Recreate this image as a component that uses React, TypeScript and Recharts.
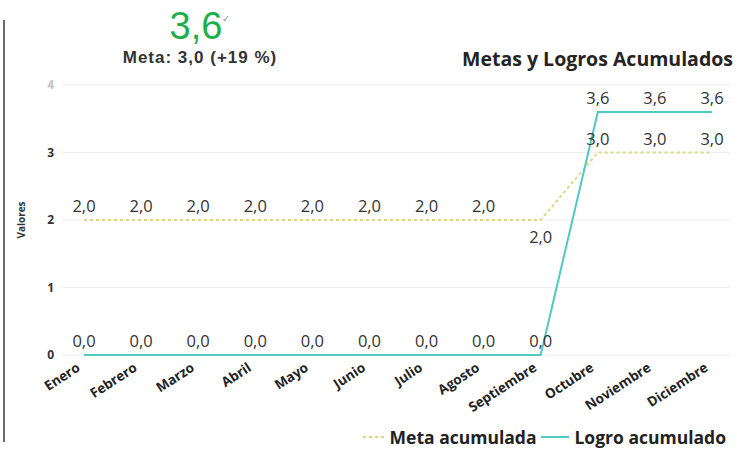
import { FC } from 'react';
import {
  LineChart,
  Line,
  XAxis,
  YAxis,
  CartesianGrid,
  Legend,
  LabelList,
  Label
} from 'recharts';

const months = [
  'Enero',
  'Febrero',
  'Marzo',
  'Abril',
  'Mayo',
  'Junio',
  'Julio',
  'Agosto',
  'Septiembre',
  'Octubre',
  'Noviembre',
  'Diciembre'
];
const metaAcumulada = [2, 2, 2, 2, 2, 2, 2, 2, 2, 3, 3, 3];
const logroAcumulado = [0, 0, 0, 0, 0, 0, 0, 0, 0, 3.6, 3.6, 3.6];
const yTicks = [0, 1, 2, 3, 4];

const kpiValue = '3,6';
const kpiGoal = 'Meta: 3,0 (+19 %)';
const title = 'Metas y Logros Acumulados';

const chartData = months.map((m, i) => ({
  mes: m,
  meta: metaAcumulada[i],
  logro: logroAcumulado[i]
}));

const FONT = '"Open Sans", "Noto Sans", sans-serif';
const KPI_FONT = '"Liberation Sans", Arial, sans-serif';
const META_COLOR = '#d6dc86';
const LOGRO_COLOR = '#4ec9c4';

const fmt = (v: number) => v.toFixed(1).replace('.', ',');

const MonthTick = (props: any) => {
  const { x, y, payload } = props;
  const ax = x - 3;
  const ay = y + 15;
  return (
    <text
      x={ax}
      y={ay}
      transform={`rotate(-33, ${ax}, ${ay})`}
      textAnchor="end"
      fontSize={13.5}
      fontWeight={700}
      fill="#222"
      fontFamily={FONT}
    >
      {payload.value}
    </text>
  );
};

const ValueTick = (props: any) => {
  const { x, y, payload } = props;
  return (
    <text
      x={x}
      y={y}
      dy={4}
      textAnchor="end"
      fontSize={12}
      fontWeight={700}
      fill={payload.value === 4 ? '#c4c4c4' : '#333'}
      fontFamily={FONT}
    >
      {payload.value}
    </text>
  );
};

const pointLabel = (below: number[]) => (props: any) => {
  const { x, y, value, index } = props;
  const under = below.includes(index);
  return (
    <text
      x={x}
      y={under ? y + 23 : y - 8}
      textAnchor="middle"
      fontSize={16.5}
      fill="#333"
      fontFamily={FONT}
    >
      {fmt(value)}
    </text>
  );
};

const LegendBox = () => (
  <div
    style={{
      display: 'flex',
      justifyContent: 'flex-end',
      alignItems: 'center',
      gap: 5,
      fontFamily: FONT,
      fontWeight: 700,
      fontSize: 17.5,
      color: '#222',
      paddingRight: 4
    }}
  >
    <svg width={22} height={6}>
      <line x1={0} y1={3} x2={22} y2={3} stroke={META_COLOR} strokeWidth={2} strokeDasharray="3 3" />
    </svg>
    <span>Meta acumulada</span>
    <svg width={28} height={6}>
      <line x1={0} y1={3} x2={28} y2={3} stroke={LOGRO_COLOR} strokeWidth={2} />
    </svg>
    <span>Logro acumulado</span>
  </div>
);

const App: FC = () => {
  return (
    <div
      style={{
        position: 'absolute',
        left: 0,
        top: 0,
        width: 737,
        height: 455,
        background: '#fff',
        fontFamily: FONT
      }}
    >
      <div
        style={{
          position: 'absolute',
          left: 3,
          top: 20,
          width: 2,
          height: 422,
          background: '#6a6a6a'
        }}
      />
      <div
        style={{
          position: 'absolute',
          left: 95,
          top: 4,
          width: 210,
          textAlign: 'center',
          fontFamily: KPI_FONT,
          fontSize: 38,
          lineHeight: '44px',
          color: '#1eae4a'
        }}
      >
        {kpiValue}
        <span style={{ fontSize: 10, color: '#999', verticalAlign: 'top', lineHeight: '30px' }}>✓</span>
      </div>
      <div
        style={{
          position: 'absolute',
          left: 80,
          top: 48,
          width: 240,
          textAlign: 'center',
          fontFamily: KPI_FONT,
          fontSize: 17,
          lineHeight: '20px',
          letterSpacing: 1,
          fontWeight: 700,
          color: '#333'
        }}
      >
        {kpiGoal}
      </div>
      <div
        style={{
          position: 'absolute',
          right: 4,
          top: 45,
          fontSize: 19.5,
          fontWeight: 700,
          color: '#252423'
        }}
      >
        {title}
      </div>
      <LineChart
        width={737}
        height={455}
        data={chartData}
        margin={{ top: 85, right: 7, left: 0, bottom: 0 }}
        style={{ position: 'absolute', left: 0, top: 0 }}
      >
        <CartesianGrid vertical={false} stroke="#efefef" />
        <XAxis
          dataKey="mes"
          interval={0}
          axisLine={false}
          tickLine={false}
          tickSize={0}
          tickMargin={0}
          height={70}
          padding={{ left: 22, right: 18 }}
          tick={<MonthTick />}
        />
        <YAxis
          type="number"
          domain={[0, 4]}
          ticks={yTicks}
          axisLine={false}
          tickLine={false}
          tickSize={0}
          tickMargin={8}
          width={62}
          tick={<ValueTick />}
        >
          <Label
            value="Valores"
            angle={-90}
            position="insideLeft"
            offset={21}
            style={{ fontSize: 10, fontWeight: 700, fill: '#333', fontFamily: FONT, textAnchor: 'middle' }}
          />
        </YAxis>
        <Legend verticalAlign="bottom" align="right" height={30} content={<LegendBox />} />
        <Line
          dataKey="meta"
          name="Meta acumulada"
          stroke={META_COLOR}
          strokeWidth={2}
          strokeDasharray="3 3"
          dot={false}
          isAnimationActive={false}
        >
          <LabelList dataKey="meta" content={pointLabel([8])} />
        </Line>
        <Line
          dataKey="logro"
          name="Logro acumulado"
          stroke={LOGRO_COLOR}
          strokeWidth={2}
          dot={false}
          isAnimationActive={false}
        >
          <LabelList dataKey="logro" content={pointLabel([])} />
        </Line>
      </LineChart>
    </div>
  );
};

export default App;
